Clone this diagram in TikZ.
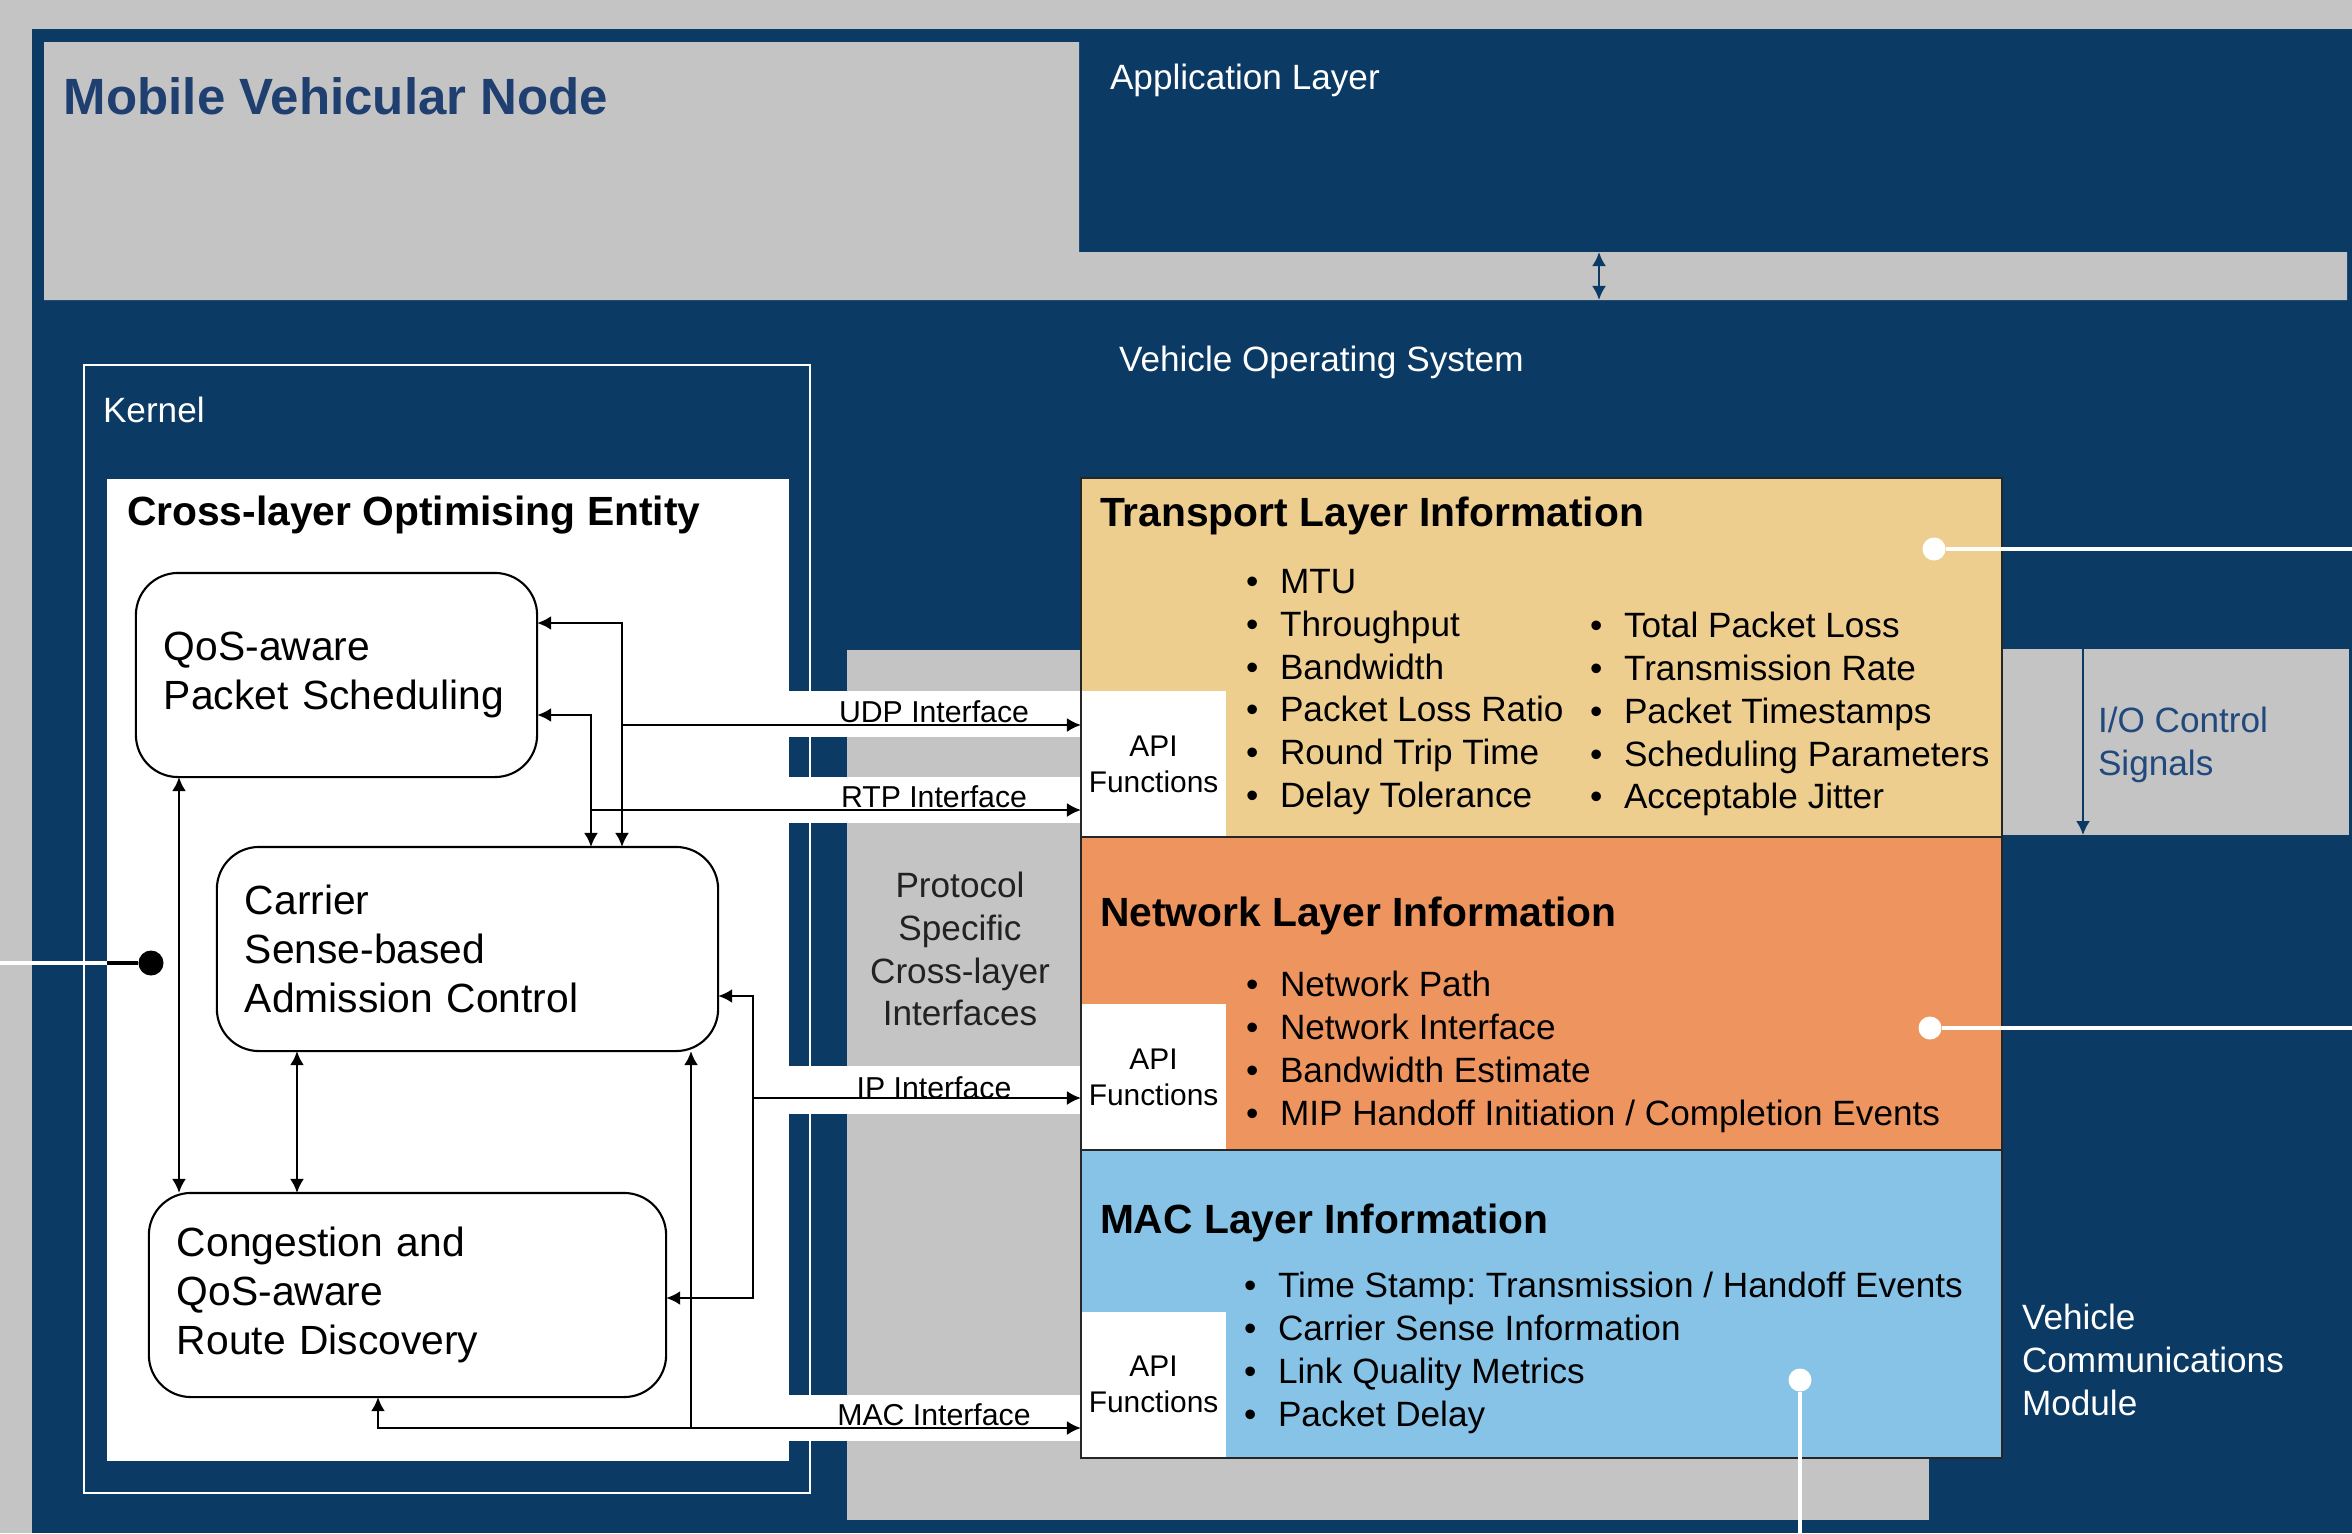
\documentclass[tikz,border=0pt]{standalone}
\usepackage{fontspec}
\setmainfont{Liberation Sans}
\usetikzlibrary{arrows.meta}
\frenchspacing
\definecolor{navy}{HTML}{0B3A64}
\definecolor{bggray}{HTML}{C4C4C4}
\definecolor{transc}{HTML}{EDCE8F}
\definecolor{netc}{HTML}{EE955F}
\definecolor{macc}{HTML}{87C3E7}
\definecolor{titleblue}{HTML}{1E3F6F}
\definecolor{iotext}{HTML}{21497D}
\definecolor{darktxt}{HTML}{222222}
\newcommand{\itm}[1]{\makebox[0.34cm][l]{\textbullet}#1}

\begin{document}
\begin{tikzpicture}[x=0.01cm,y=-0.01cm,>={Latex[length=4pt,width=4pt]},
    every node/.style={inner sep=0pt,outer sep=0pt},
    txt/.style={font=\fontsize{10}{12.2}\selectfont,align=left,anchor=west},
    wtxt/.style={txt,text=white},
    head/.style={font=\fontsize{11.6}{14}\selectfont\bfseries,anchor=west},
    block/.style={draw,rounded corners=12pt,fill=white,line width=0.6pt,align=left,
                  minimum height=2.04cm,inner xsep=0.28cm,font=\fontsize{11.6}{14}\selectfont},
    layer/.style={rectangle,minimum width=9.2cm,anchor=north west},
    api/.style={fill=white,minimum width=1.45cm,minimum height=1.46cm,anchor=south west,
                align=center,font=\fontsize{8.5}{10.2}\selectfont},
    iflbl/.style={font=\fontsize{8.6}{10}\selectfont},
    conn/.style={->,line width=0.7pt},
    dot/.style={circle,fill=white,minimum size=0.23cm}]
  \useasboundingbox (0,0) rectangle (2352,1533);
  \fill[bggray] (0,0) rectangle (2352,1533);
  \fill[navy] (32,29) rectangle (2352,1533);
  \fill[bggray] (44,42) -- (1079,42) -- (1079,252) -- (2347,252) -- (2347,300) -- (44,300) -- cycle;
  \fill[bggray] (847,650) rectangle (1929,1520);
  \node[fill=bggray,minimum width=3.46cm,minimum height=1.86cm,anchor=north west] (io) at (2003,649) {};

  \draw[white,line width=0.6pt] (84,365) rectangle (810,1493);
  \node[fill=white,minimum width=6.82cm,minimum height=9.81cm,anchor=north west] (coe) at (107,479) {};
  \foreach \ya/\yb in {691/737,777/823,1066/1114,1395/1441}
    \fill[white] (789,\ya) rectangle (1081,\yb);

  \node[layer,fill=transc,minimum height=3.59cm] (tl) at (1081,478) {};
  \node[layer,fill=netc,minimum height=3.13cm] (nl) at (tl.south west) {};
  \node[layer,fill=macc,minimum height=3.07cm] (ml) at (nl.south west) {};
  \node[api] (tapi) at (tl.south west) {API\\Functions};
  \node[api] (napi) at (nl.south west) {API\\Functions};
  \node[api] (mapi) at (ml.south west) {API\\Functions};
  \draw[line width=0.6pt,black!85] (tl.north west) rectangle (ml.south east)
    (nl.north west) -- (nl.north east) (ml.north west) -- (ml.north east);

  \node[anchor=west,font=\fontsize{14.5}{17}\selectfont\bfseries,text=titleblue] (mvn) at (64,96) {Mobile Vehicular Node};
  \node[wtxt] (appl) at (1110,80) {Application Layer};
  \node[wtxt] (vos) at (1119,362) {Vehicle Operating System};
  \node[wtxt] (kern) at (103,410) {Kernel};
  \node[wtxt] (vcm) at (2022,1360) {Vehicle\\Communications\\Module};
  \node[txt,text=iotext] (iot) at (2098,745) {I/O Control\\Signals};
  \node[txt,align=center,anchor=center,text=darktxt] (pscl) at (960,949) {Protocol\\Specific\\Cross-layer\\Interfaces};
  \node[head] (coet) at (127,515) {Cross-layer Optimising Entity};

  \node[head] (tlt) at (1100,516) {Transport Layer Information};
  \node[head] (nlt) at (1100,916) {Network Layer Information};
  \node[head] (mlt) at (1100,1223) {MAC Layer Information};
  \node[txt] (tl1) at (1246,692) {\itm{MTU}\\\itm{Throughput}\\\itm{Bandwidth}\\\itm{Packet Loss Ratio}\\\itm{Round Trip Time}\\\itm{Delay Tolerance}};
  \node[txt] (tl2) at (1590,714) {\itm{Total Packet Loss}\\\itm{Transmission Rate}\\\itm{Packet Timestamps}\\\itm{Scheduling Parameters}\\\itm{Acceptable Jitter}};
  \node[txt] (nl1) at (1246,1052) {\itm{Network Path}\\\itm{Network Interface}\\\itm{Bandwidth Estimate}\\\itm{MIP Handoff Initiation / Completion Events}};
  \node[txt] (ml1) at (1244,1353) {\itm{Time Stamp: Transmission / Handoff Events}\\\itm{Carrier Sense Information}\\\itm{Link Quality Metrics}\\\itm{Packet Delay}};

  \node[iflbl] (udpl) at (934,712) {UDP Interface};
  \node[iflbl] (rtpl) at (934,797) {RTP Interface};
  \node[iflbl] (ipl) at (934,1088) {IP Interface};
  \node[iflbl] (macl) at (934,1415) {MAC Interface};

  \node[block,text width=3.45cm] (qos) at (336.5,675) {QoS-aware\\Packet Scheduling};
  \node[block,text width=4.45cm] (csac) at (467.5,949) {Carrier\\Sense-based\\Admission Control};
  \node[block,text width=4.61cm] (crd) at (407.5,1295) {Congestion and\\QoS-aware\\Route Discovery};

  \coordinate (udp) at (622,725);
  \coordinate (rtp) at (591,810);
  \coordinate (ip) at (753,1098);
  \coordinate (mac) at (691,1428);
  \draw[conn] (udp) |- (qos.east |- 0,623);
  \draw[conn] (udp) -- (udp |- csac.north);
  \draw[conn] (udp) -- (udp -| tapi.west);
  \draw[conn] (rtp) |- (qos.east |- 0,715);
  \draw[conn] (rtp) -- (rtp |- csac.north);
  \draw[conn] (rtp) -- (rtp -| tapi.west);
  \draw[conn] (ip) |- (csac.east |- 0,996);
  \draw[conn] (ip) |- (crd.east |- 0,1298);
  \draw[conn] (ip) -- (ip -| napi.west);
  \draw[conn] (mac) -- (mac |- csac.south);
  \draw[conn] (mac) -| (crd.south -| 378,0);
  \draw[conn] (mac) -- (mac -| mapi.west);
  \draw[conn,<->] (qos.south -| 179,0) -- (crd.north -| 179,0);
  \draw[conn,<->] (csac.south -| 297,0) -- (crd.north -| 297,0);

  \coordinate (appb) at (1599,252);
  \coordinate (ost) at (1599,300);
  \draw[conn,<->,navy] (appb) -- (ost);
  \draw[conn,navy] (io.north -| 2083,0) -- (io.south -| 2083,0);

  \node[dot,fill=black,minimum size=0.25cm] (ctl) at (151,963) {};
  \coordinate (lin) at (0,963);
  \draw[line width=1.1pt] (ctl) -- (ctl -| coe.west);
  \draw[white,line width=1.1pt] (ctl -| coe.west) -- (lin);
  \node[dot] (td) at (1934,549) {};
  \node[dot] (nd) at (1930,1028) {};
  \node[dot] (md) at (1800,1380) {};
  \coordinate (tout) at (2352,549);
  \coordinate (nout) at (2352,1028);
  \coordinate (mout) at (1800,1533);
  \draw[white,line width=1.1pt] (td) -- (tout) (nd) -- (nout) (md) -- (mout);
\end{tikzpicture}
\end{document}
